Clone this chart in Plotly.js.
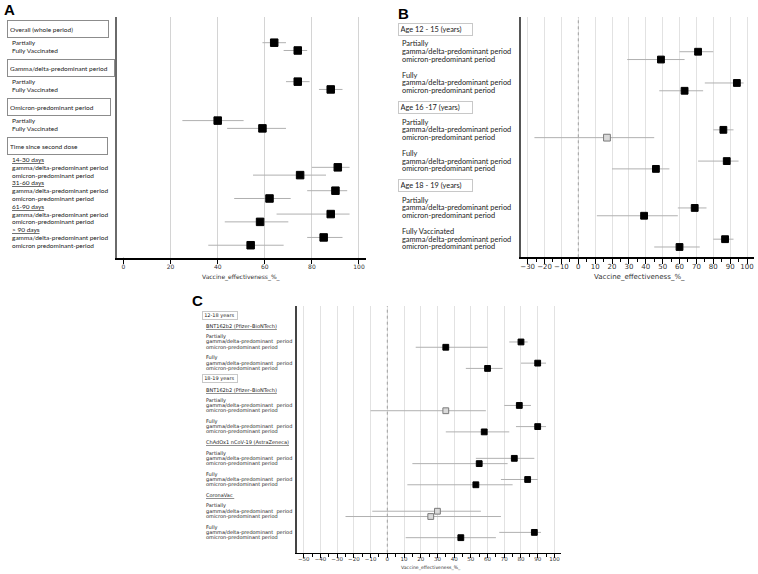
<!DOCTYPE html>
<html>
<head>
<meta charset="utf-8">
<script src="https://cdn.plot.ly/plotly-3.0.1.min.js"></script>
<style>html,body{margin:0;padding:0;background:#fff;}#chart{width:758px;height:574px;}</style>
</head>
<body>
<div id="chart"></div>
<script>
// ---------- Panel A data ----------
const labelsA = ['Overall (whole period)', '', 'Partially', 'Fully Vaccinated', '',
  'Gamma/delta-predominant period', '', 'Partially', 'Fully Vaccinated', '',
  'Omicron-predominant period', '', 'Partially', 'Fully Vaccinated', '',
  'Time since second dose', '',
  '14-30 days', 'gamma/delta-predominant period', 'omicron-predominant period',
  '31-60 days', 'gamma/delta-predominant period', 'omicron-predominant period',
  '61-90 days', 'gamma/delta-predominant period', 'omicron-predominant period',
  '> 90 days', 'gamma/delta-predominant period', 'omicron predominant-period'];
const kindsA = ['box','','row','row','','box','','row','row','','box','','row','row','','box','',
  'sub','row','row','sub','row','row','sub','row','row','sub','row','row'];
const veA = [64, 74, 74, 88, 40, 59, 91, 75, 90, 62, 88, 58, 85, 54];
const loA = [59, 68, 69, 83, 25, 44, 80, 55, 78, 47, 65, 43, 78, 36];
const hiA = [69, 78, 79, 93, 51, 69, 96, 86, 95, 71, 96, 70, 93, 68];

// ---------- Panel B data ----------
const labelsB = ['Age 12 - 15 (years)', '', 'Partially', 'gamma/delta-predominant period', 'omicron-predominant period', '',
  'Fully', 'gamma/delta-predominant period', 'omicron-predominant period', '',
  'Age 16 -17 (years)', '', 'Partially', 'gamma/delta-predominant period', 'omicron-predominant period', '',
  'Fully', 'gamma/delta-predominant period', 'omicron-predominant period', '',
  'Age 18 - 19 (years)', '', 'Partially', 'gamma/delta-predominant period', 'omicron-predominant period', '',
  'Fully Vaccinated', 'gamma/delta-predominant period', 'omicron-predominant period'];
const kindsB = ['box','','head','row','row','','head','row','row','',
  'box','','head','row','row','','head','row','row','',
  'box','','head','row','row','','head','row','row'];
const veB = [71, 49, 94, 63, 86, 17, 88, 46, 69, 39, 87, 60];
const loB = [60, 29, 75, 48, 80, -26, 71, 20, 59, 11, 80, 45];
const hiB = [80, 63, 98, 74, 92, 45, 95, 54, 76, 59, 92, 72];

// ---------- Panel C data ----------
const labelsC = ['12-18 years', '', 'BNT162b2 (Pfizer–BioNTech)', '',
  'Partially', 'gamma/delta-predominant  period', 'omicron-predominant period', '',
  'Fully', 'gamma/delta-predominant  period', 'omicron-predominant period', '',
  '18-19 years', '', 'BNT162b2 (Pfizer–BioNTech)', '',
  'Partially', 'gamma/delta-predominant  period', 'omicron-predominant period', '',
  'Fully', 'gamma/delta-predominant  period', 'omicron-predominant period', '',
  'ChAdOx1 nCoV-19 (AstraZeneca)', '',
  'Partially', 'gamma/delta-predominant  period', 'omicron-predominant period', '',
  'Fully', 'gamma/delta-predominant  period', 'omicron-predominant period', '',
  'CoronaVac ', '',
  'Partially', 'gamma/delta-predominant  period', 'omicron-predominant period', '',
  'Fully', 'gamma/delta-predominant  period', 'omicron-predominant period'];
const kindsC = ['box','','sub','','head','row','row','','head','row','row','',
  'box','','sub','','head','row','row','','head','row','row','',
  'sub','','head','row','row','','head','row','row','',
  'sub','','head','row','row','','head','row','row'];
const veC = [80, 35, 90, 60, 79, 35, 90, 58, 76, 55, 84, 53, 30, 26, 88, 44];
const loC = [73, 17, 80, 47, 70, -10, 77, 35, 53, 15, 68, 12, -9, -25, 67, 11];
const hiC = [84, 60, 95, 69, 86, 59, 95, 73, 88, 72, 90, 75, 56, 68, 92, 65];

// ---------- helpers ----------
const W = 758, H = 574;
const px = v => v / W;
const py = v => 1 - v / H;

function rowsOf(kinds){ const r=[]; kinds.forEach((k,i)=>{ if(k==='row') r.push(i); }); return r; }

function forestTrace(ve, lo, hi, kinds, xa, ya, size){
  const rows = rowsOf(kinds);
  const ns = ve.map((v,i)=> lo[i] < 0);
  return {
    type:'scatter', mode:'markers', x: ve, y: rows, xaxis: xa, yaxis: ya,
    marker:{symbol:'square', size:size,
      color: ns.map(n => n ? '#d9d9d9' : '#000'),
      line:{width:1, color: ns.map(n => n ? '#7a7a7a' : '#000')}},
    error_x:{type:'data', symmetric:false, array: hi.map((h,i)=>h-ve[i]),
      arrayminus: lo.map((l,i)=>ve[i]-l), width:0, thickness:1, color:'#b0b0b0'},
    hoverinfo:'skip', showlegend:false, cliponaxis:false
  };
}

const annotations = [];
function addLabels(labels, kinds, yref, opt){
  labels.forEach((t,i)=>{
    const k = kinds[i];
    if(!t) return;
    if(k==='box'){
      annotations.push({xref:'paper', x:px(opt.boxX), xanchor:'left', yref:yref, y:i+opt.boxShift, yanchor:'middle',
        text:t, showarrow:false, align:'left', valign:'middle',
        width:opt.boxW[t] || opt.boxWdef, height:opt.boxH, borderpad:opt.boxPad,
        bordercolor:opt.boxColor, borderwidth:1,
        font:{family:opt.family, size:opt.size, color:opt.color}});
    } else {
      annotations.push({xref:'paper', x:px(opt.textX), xanchor:'left', yref:yref, y:i, yanchor:'middle',
        text: k==='sub' ? '<u>'+t+'</u>' : t, showarrow:false, align:'left',
        font:{family:opt.family, size:opt.size, color:opt.color}});
    }
  });
}

addLabels(labelsA, kindsA, 'y', {boxX:7, boxShift:0.2, textX:10, boxW:{'Overall (whole period)':96,'Gamma/delta-predominant period':102,'Omicron-predominant period':98,'Time since second dose':95},
  boxWdef:96, boxH:12, boxPad:2, boxColor:'#8c8c8c', family:'Lato, sans-serif', size:6.5, color:'#222'});
addLabels(labelsB, kindsB, 'y2', {boxX:398, boxShift:0.1, textX:400, boxW:{}, boxWdef:70, boxH:8, boxPad:1.5, boxColor:'#c8c8c8',
  family:'Lato, sans-serif', size:7.4, color:'#222'});
addLabels(labelsC, kindsC, 'y3', {boxX:202, boxShift:0, textX:203.5, boxW:{}, boxWdef:32, boxH:5, boxPad:1.2, boxColor:'#c8c8c8',
  family:'DejaVu Sans, sans-serif', size:5.0, color:'#222'});

// panel letters
[['A',9,10],['B',403,13],['C',197,300]].forEach(([t,x,y])=>annotations.push({xref:'paper',yref:'paper',x:px(x),y:py(y),
  xanchor:'center',yanchor:'middle',text:'<b>'+t+'</b>',showarrow:false,font:{family:'Liberation Sans, Arial, sans-serif',size:15,color:'#000'}}));
// axis titles
[[241.5,277,6],[639,277,7],[431,567.5,4.6]].forEach(([x,y,s])=>annotations.push({xref:'paper',yref:'paper',x:px(x),y:py(y),
  xanchor:'center',yanchor:'middle',text:'Vaccine_effectiveness_%_',showarrow:false,font:{family:'DejaVu Sans, sans-serif',size:s,color:'#333'}}));

const tickfont = s => ({family:'DejaVu Sans, sans-serif', size:s, color:'#333'});
const yBase = {showline:true, showticklabels:false, ticks:'', showgrid:false, zeroline:false, fixedrange:true};

const shapes = [
  // panel A has no gridline at 0: mask it
  {type:'line', xref:'x', yref:'paper', x0:0, x1:0, y0:py(257), y1:py(16), layer:'above', line:{color:'#ffffff', width:2}},
  {type:'line', xref:'x2', yref:'paper', x0:0, x1:0, y0:py(257.3), y1:py(17), layer:'above', line:{color:'#a0a0a0', width:1, dash:'dot'}},
  {type:'line', xref:'x3', yref:'paper', x0:0, x1:0, y0:py(552.7), y1:py(306), layer:'above', line:{color:'#a0a0a0', width:1, dash:'dot'}}
];

const layout = {
  width:W, height:H, margin:{l:0,r:0,t:0,b:0}, paper_bgcolor:'#fff', plot_bgcolor:'rgba(0,0,0,0)', showlegend:false,
  xaxis:{domain:[px(117), px(365.7)], range:[-2.76, 102.85], anchor:'y', tickmode:'linear', tick0:0, dtick:20,
    ticks:'outside', ticklen:4, tickwidth:1, tickcolor:'#000',
    showline:true, linecolor:'#000', linewidth:1.5, showgrid:true, gridcolor:'#d4d4d4', gridwidth:1, zeroline:false,
    tickfont:tickfont(6), ticklabelstandoff:-2},
  yaxis:Object.assign({}, yBase, {domain:[py(258), py(17)], range:[29.64, -1.3], anchor:'x', linecolor:'#6a6a6a', linewidth:2.5}),

  xaxis2:{domain:[px(520.7), px(754)], range:[-34.14, 104.15], anchor:'y2', tickmode:'linear', tick0:0, dtick:10,
    ticks:'outside', ticklen:5, tickwidth:1, tickcolor:'#000', minor:{dtick:5, tick0:0, ticks:'outside', ticklen:3, tickcolor:'#000'},
    showline:true, linecolor:'#000', linewidth:1.5, showgrid:true, gridcolor:'#e2e2e2', zeroline:false, tickfont:tickfont(7), ticklabelstandoff:-3},
  yaxis2:Object.assign({}, yBase, {domain:[py(257.3), py(17)], range:[29.32, -1.447], anchor:'x2', linecolor:'#555', linewidth:2}),

  xaxis3:{domain:[px(297), px(561)], range:[-54.04, 103.95], anchor:'y3', tickmode:'linear', tick0:0, dtick:10,
    ticks:'outside', ticklen:4, tickwidth:1, tickcolor:'#000', minor:{dtick:5, tick0:0, ticks:'outside', ticklen:2.5, tickcolor:'#000'},
    showline:true, linecolor:'#000', linewidth:1.5, showgrid:true, gridcolor:'#e2e2e2', zeroline:false, tickfont:tickfont(5.5), ticklabelstandoff:-4},
  yaxis3:Object.assign({}, yBase, {domain:[py(552.7), py(306)], range:[44.84, -1.80], anchor:'x3', linecolor:'#444', linewidth:2}),

  shapes: shapes,
  annotations: annotations
};

const data = [
  forestTrace(veA, loA, hiA, kindsA, 'x', 'y', 7.5),
  forestTrace(veB, loB, hiB, kindsB, 'x2', 'y2', 6.8),
  forestTrace(veC, loC, hiC, kindsC, 'x3', 'y3', 5.8)
];

Plotly.newPlot('chart', data, layout, {staticPlot:true, displayModeBar:false});
</script>
</body>
</html>
